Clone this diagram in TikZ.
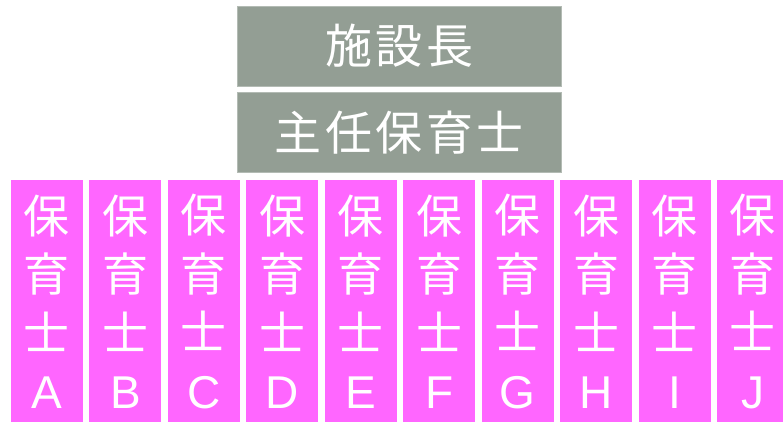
\documentclass[tikz,border=0pt]{standalone}
\usepackage{fontspec}
\setmainfont{Liberation Sans}
\newfontfamily\jp{Noto Sans CJK JP}
\definecolor{boxgray}{HTML}{939E94}
\definecolor{staffpink}{HTML}{FF66FF}
\tikzset{
  headbox/.style={fill=boxgray, draw=boxgray!70!white, line width=0.6pt, minimum width=324pt, minimum height=80pt, inner sep=0pt, text=white, font=\jp\fontsize{47}{47}\selectfont},
  staffcol/.style={fill=staffpink, minimum width=72pt, minimum height=244pt, inner sep=0pt, text=white, align=center, font=\fontsize{46}{58.5}\selectfont}
}
\newcommand{\staffname}[1]{{\jp 保}\\{\jp 育}\\{\jp 士}\\#1}
\newcommand{\gp}{\hspace{3.5pt}}
\begin{document}
\begin{tikzpicture}[x=1pt,y=-1pt]
\clip (0,0) rectangle (783,421);
\fill[white] (0,0) rectangle (783,421);
\node[headbox] (head) at (399.4,46) {施\gp 設\gp 長};
\node[headbox] (chief) at (399.4,132.7) {主\gp 任\gp 保\gp 育\gp 士};
\foreach \i/\L in {0/A,1/B,2/C,3/D,4/E,5/F,6/G,7/H,8/I,9/J}{
  \node[staffcol, anchor=north west] (s\L) at ({10.7+78.45*\i},179.3) {\staffname{\L}};
}
\end{tikzpicture}
\end{document}
